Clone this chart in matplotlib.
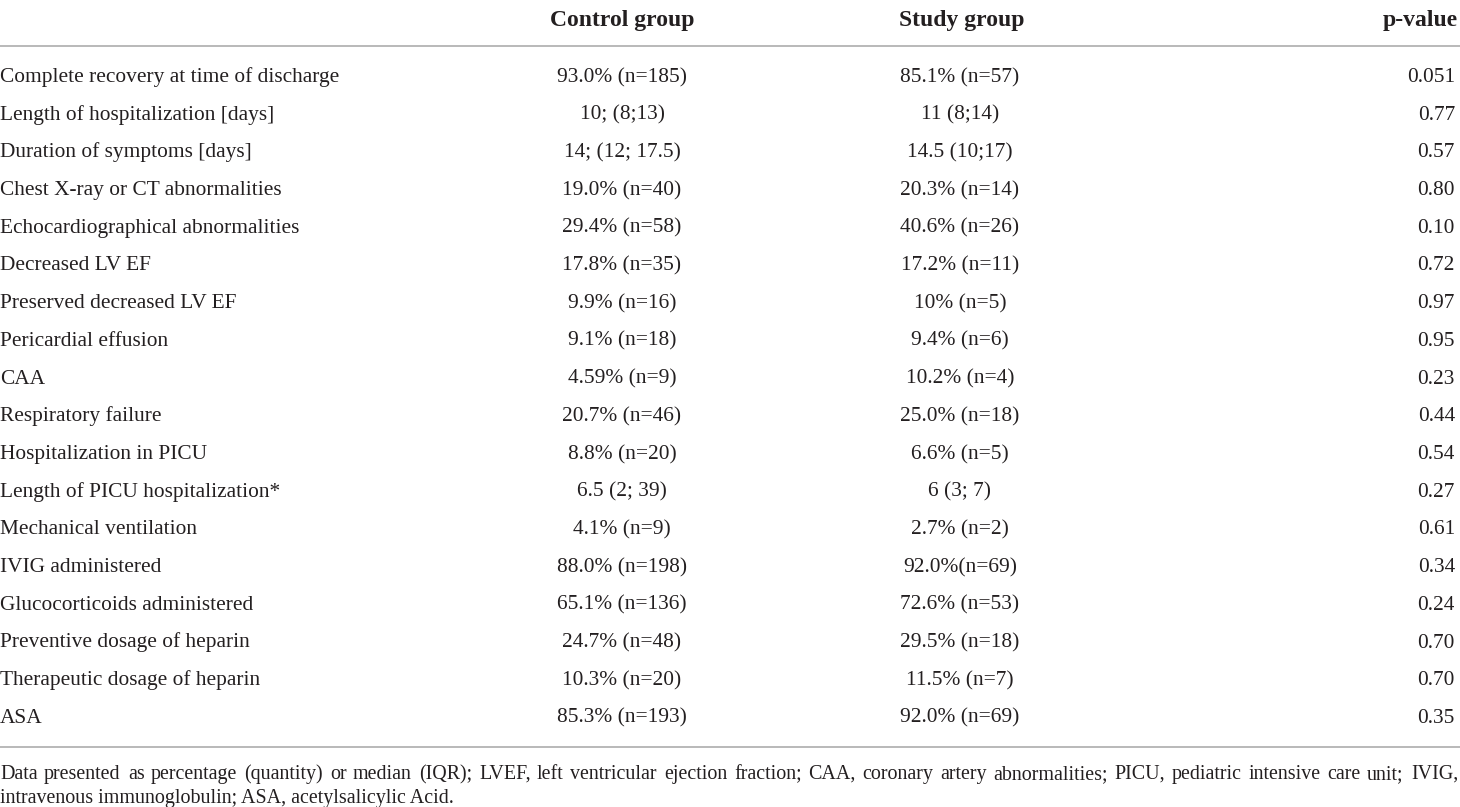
import matplotlib.pyplot as plt

# table content
headers = ['Control group', 'Study group', 'p-value']
outcomes = [
    'Complete recovery at time of discharge',
    'Length of hospitalization [days]',
    'Duration of symptoms [days]',
    'Chest X-ray or CT abnormalities',
    'Echocardiographical abnormalities',
    'Decreased LV EF',
    'Preserved decreased LV EF',
    'Pericardial effusion',
    'CAA',
    'Respiratory failure',
    'Hospitalization in PICU',
    'Length of PICU hospitalization*',
    'Mechanical ventilation',
    'IVIG administered',
    'Glucocorticoids administered',
    'Preventive dosage of heparin',
    'Therapeutic dosage of heparin',
    'ASA',
]
control = [
    '93.0% (n=185)', '10; (8;13)', '14; (12; 17.5)', '19.0% (n=40)',
    '29.4% (n=58)', '17.8% (n=35)', '9.9% (n=16)', '9.1% (n=18)',
    '4.59% (n=9)', '20.7% (n=46)', '8.8% (n=20)', '6.5 (2; 39)',
    '4.1% (n=9)', '88.0% (n=198)', '65.1% (n=136)', '24.7% (n=48)',
    '10.3% (n=20)', '85.3% (n=193)',
]
study = [
    '85.1% (n=57)', '11 (8;14)', '14.5 (10;17)', '20.3% (n=14)',
    '40.6% (n=26)', '17.2% (n=11)', '10% (n=5)', '9.4% (n=6)',
    '10.2% (n=4)', '25.0% (n=18)', '6.6% (n=5)', '6 (3; 7)',
    '2.7% (n=2)', '92.0%(n=69)', '72.6% (n=53)', '29.5% (n=18)',
    '11.5% (n=7)', '92.0% (n=69)',
]
p_values = [
    '0.051', '0.77', '0.57', '0.80', '0.10', '0.72', '0.97', '0.95', '0.23',
    '0.44', '0.54', '0.27', '0.61', '0.34', '0.24', '0.70', '0.70', '0.35',
]
footnote = ('Data presented as percentage (quantity) or median (IQR); LVEF, left ventricular '
            'ejection fraction; CAA, coronary artery abnormalities; PICU, pediatric intensive '
            'care unit; IVIG, intravenous immunoglobulin; ASA, acetylsalicylic Acid.')

W, H = 1460, 807
plt.rcParams['font.family'] = ['Liberation Serif', 'DejaVu Serif']
txt = '#231f20'
rule = '#b3b3b3'

fig = plt.figure(figsize=(W / 100, H / 100), dpi=100)
ax = fig.add_axes([0, 0, 1, 1])
ax.set_xlim(0, W)
ax.set_ylim(H, 0)
ax.axis('off')

# header
col_x = [622, 962, 1458]
col_ha = ['center', 'center', 'right']
for h, x, ha in zip(headers, col_x, col_ha):
    ax.text(x, 26, h, ha=ha, va='baseline', fontsize=17, fontweight='bold', color=txt)

ax.plot([0, W], [46, 46], color=rule, lw=1.3)

# body rows
fs_body = 15.4
y0, dy = 82, 37.7
for i in range(len(outcomes)):
    y = y0 + i * dy
    ax.text(0, y, outcomes[i], ha='left', va='baseline', fontsize=fs_body, color=txt)
    ax.text(622, y, control[i], ha='center', va='baseline', fontsize=fs_body, color=txt)
    ax.text(960, y, study[i], ha='center', va='baseline', fontsize=fs_body, color=txt)
    ax.text(1455, y, p_values[i], ha='right', va='baseline', fontsize=fs_body, color=txt)

ax.plot([0, W], [747, 747], color=rule, lw=1.3)

# justified footnote (first line stretched to full width)
fig.canvas.draw()
renderer = fig.canvas.get_renderer()
words = footnote.split(' ')
fs = 14.4


def word_width(w):
    t = ax.text(0, 0, w, fontsize=fs)
    bb = t.get_window_extent(renderer)
    t.remove()
    return bb.width


widths = [word_width(w) for w in words]
space = word_width('a a') - 2 * word_width('a')
lines, cur, cur_w = [], [], 0
for w, wd in zip(words, widths):
    add = wd if not cur else space + wd
    if cur and cur_w + add > W - 2:
        lines.append(cur)
        cur, cur_w = [], 0
        add = wd
    cur.append((w, wd))
    cur_w += add
lines.append(cur)

for li, line in enumerate(lines):
    y = 779 + li * 24.5
    if li == len(lines) - 1 or len(line) == 1:
        # last line: plain left aligned string
        ax.text(0, y, ' '.join(w for w, _ in line), ha='left', va='baseline',
                fontsize=fs, color=txt)
        continue
    total = sum(wd for _, wd in line)
    gap = (W - 2 - total) / (len(line) - 1)
    x = 0
    for w, wd in line:
        ax.text(round(x), y, w, ha='left', va='baseline', fontsize=fs, color=txt)
        x += wd + gap

fig.savefig('out.png', dpi=100)
